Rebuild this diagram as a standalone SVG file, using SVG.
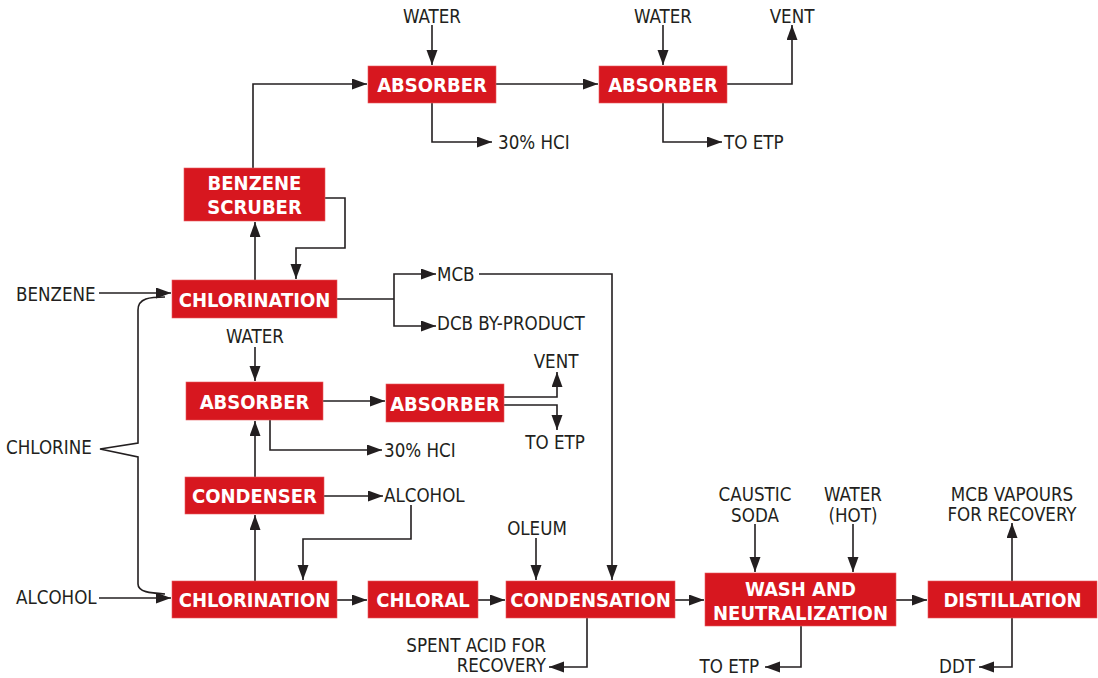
<svg xmlns="http://www.w3.org/2000/svg" width="1098" height="678" viewBox="0 0 1098 678">
<defs>
<marker id="ah" markerUnits="userSpaceOnUse" markerWidth="16" markerHeight="12" refX="15" refY="5.5" orient="auto">
<path d="M0,0 L15,5.5 L0,11 z" fill="#231f20"/>
</marker>
<style>
.box{fill:#d7171f;stroke:#e85a60;stroke-width:0.6}
.bt{font-family:"DejaVu Sans Condensed","DejaVu Sans",sans-serif;font-stretch:condensed;font-weight:bold;font-size:20px;fill:#fff;text-anchor:middle}
.lb{font-family:"DejaVu Sans Condensed","DejaVu Sans",sans-serif;font-stretch:condensed;font-size:18.6px;fill:#231f20}
.c{text-anchor:middle}
.e{text-anchor:end}
.ln{fill:none;stroke:#231f20;stroke-width:1.6}
.ar{marker-end:url(#ah)}
</style>
</defs>
<rect width="1098" height="678" fill="#fff"/>

<g id="connectors">
<path class="ln ar" d="M432,25 V65"/>
<path class="ln ar" d="M663,25 V65"/>
<path class="ln ar" d="M253,168 V84 H367"/>
<path class="ln ar" d="M496,84 H598"/>
<path class="ln ar" d="M432,103 V142 H492"/>
<path class="ln ar" d="M727,84 H792 V25"/>
<path class="ln ar" d="M663,103 V142 H722"/>
<path class="ln ar" d="M325,198 H345 V248 H296 V279"/>
<path class="ln ar" d="M255,280 V222"/>
<path class="ln ar" d="M99,293 H171"/>
<path class="ln" d="M165,297 C150,297 138,298 138,310 V443 L100,449 L138,457 V584 C138,592 150,593 165,594"/>
<path class="ln ar" d="M99,598 H171"/>
<path class="ln" d="M337,299 H394"/>
<path class="ln ar" d="M394,299 V274 H436"/>
<path class="ln ar" d="M394,299 V326 H436"/>
<path class="ln ar" d="M479,274 H612 V580"/>
<path class="ln ar" d="M255,347 V381"/>
<path class="ln ar" d="M323,401 H385"/>
<path class="ln ar" d="M270,420 V450 H382"/>
<path class="ln ar" d="M504,397 H557 V372"/>
<path class="ln ar" d="M504,405 H557 V430"/>
<path class="ln ar" d="M255,477 V421"/>
<path class="ln ar" d="M324,496 H383"/>
<path class="ln ar" d="M411,505 V539 H303 V580"/>
<path class="ln ar" d="M255,581 V515"/>
<path class="ln ar" d="M337,600 H367"/>
<path class="ln ar" d="M478,600 H505"/>
<path class="ln ar" d="M536,538 V580"/>
<path class="ln ar" d="M587,618 V667 H549"/>
<path class="ln ar" d="M675,600 H704"/>
<path class="ln ar" d="M755,524 V572"/>
<path class="ln ar" d="M853,524 V572"/>
<path class="ln ar" d="M801,626 V667 H765"/>
<path class="ln ar" d="M896,600 H927"/>
<path class="ln ar" d="M1012,581 V523"/>
<path class="ln ar" d="M1012,618 V667 H979"/>
</g>

<g id="absorber-top1"><rect class="box" x="368" y="66" width="128" height="37"/><text class="bt" x="432" y="92">ABSORBER</text></g>
<g id="absorber-top2"><rect class="box" x="599" y="66" width="128" height="37"/><text class="bt" x="663" y="92">ABSORBER</text></g>
<g id="benzene-scrubber"><rect class="box" x="184" y="168" width="141" height="53"/><text class="bt" x="254.5" y="190">BENZENE</text><text class="bt" x="254.5" y="214">SCRUBER</text></g>
<g id="chlorination1"><rect class="box" x="172" y="280" width="165" height="38"/><text class="bt" x="254.5" y="306.5">CHLORINATION</text></g>
<g id="absorber-mid1"><rect class="box" x="186" y="382" width="137" height="38"/><text class="bt" x="254.5" y="408.5">ABSORBER</text></g>
<g id="absorber-mid2"><rect class="box" x="386" y="384" width="118" height="38"/><text class="bt" x="445" y="410.5">ABSORBER</text></g>
<g id="condenser"><rect class="box" x="185" y="477" width="139" height="37"/><text class="bt" x="254.5" y="503">CONDENSER</text></g>
<g id="chlorination2"><rect class="box" x="172" y="581" width="165" height="37"/><text class="bt" x="254.5" y="607">CHLORINATION</text></g>
<g id="chloral"><rect class="box" x="368" y="581" width="110" height="37"/><text class="bt" x="423" y="607">CHLORAL</text></g>
<g id="condensation"><rect class="box" x="506" y="581" width="169" height="37"/><text class="bt" x="590.5" y="607">CONDENSATION</text></g>
<g id="wash"><rect class="box" x="705" y="573" width="191" height="53"/><text class="bt" x="800.5" y="596">WASH AND</text><text class="bt" x="800.5" y="620">NEUTRALIZATION</text></g>
<g id="distillation"><rect class="box" x="928" y="581" width="169" height="37"/><text class="bt" x="1012.5" y="607">DISTILLATION</text></g>

<g id="labels">
<text class="lb c" x="432" y="23">WATER</text>
<text class="lb c" x="663" y="23">WATER</text>
<text class="lb c" x="792" y="23">VENT</text>
<text class="lb" x="498" y="149">30% HCI</text>
<text class="lb" x="724" y="149">TO ETP</text>
<text class="lb" x="16" y="301">BENZENE</text>
<text class="lb" x="437" y="281">MCB</text>
<text class="lb" x="437" y="330">DCB BY-PRODUCT</text>
<text class="lb c" x="255" y="343">WATER</text>
<text class="lb c" x="556" y="368">VENT</text>
<text class="lb c" x="555" y="449">TO ETP</text>
<text class="lb" x="384" y="457">30% HCI</text>
<text class="lb" x="6" y="454">CHLORINE</text>
<text class="lb" x="384" y="502">ALCOHOL</text>
<text class="lb" x="16" y="604">ALCOHOL</text>
<text class="lb c" x="537" y="535">OLEUM</text>
<text class="lb e" x="546" y="652">SPENT ACID FOR</text>
<text class="lb e" x="546" y="672">RECOVERY</text>
<text class="lb c" x="755" y="501">CAUSTIC</text>
<text class="lb c" x="755" y="522">SODA</text>
<text class="lb c" x="853" y="501">WATER</text>
<text class="lb c" x="853" y="522">(HOT)</text>
<text class="lb e" x="759" y="673">TO ETP</text>
<text class="lb c" x="1012" y="501">MCB VAPOURS</text>
<text class="lb c" x="1012" y="521">FOR RECOVERY</text>
<text class="lb e" x="975" y="673">DDT</text>
</g>
</svg>
